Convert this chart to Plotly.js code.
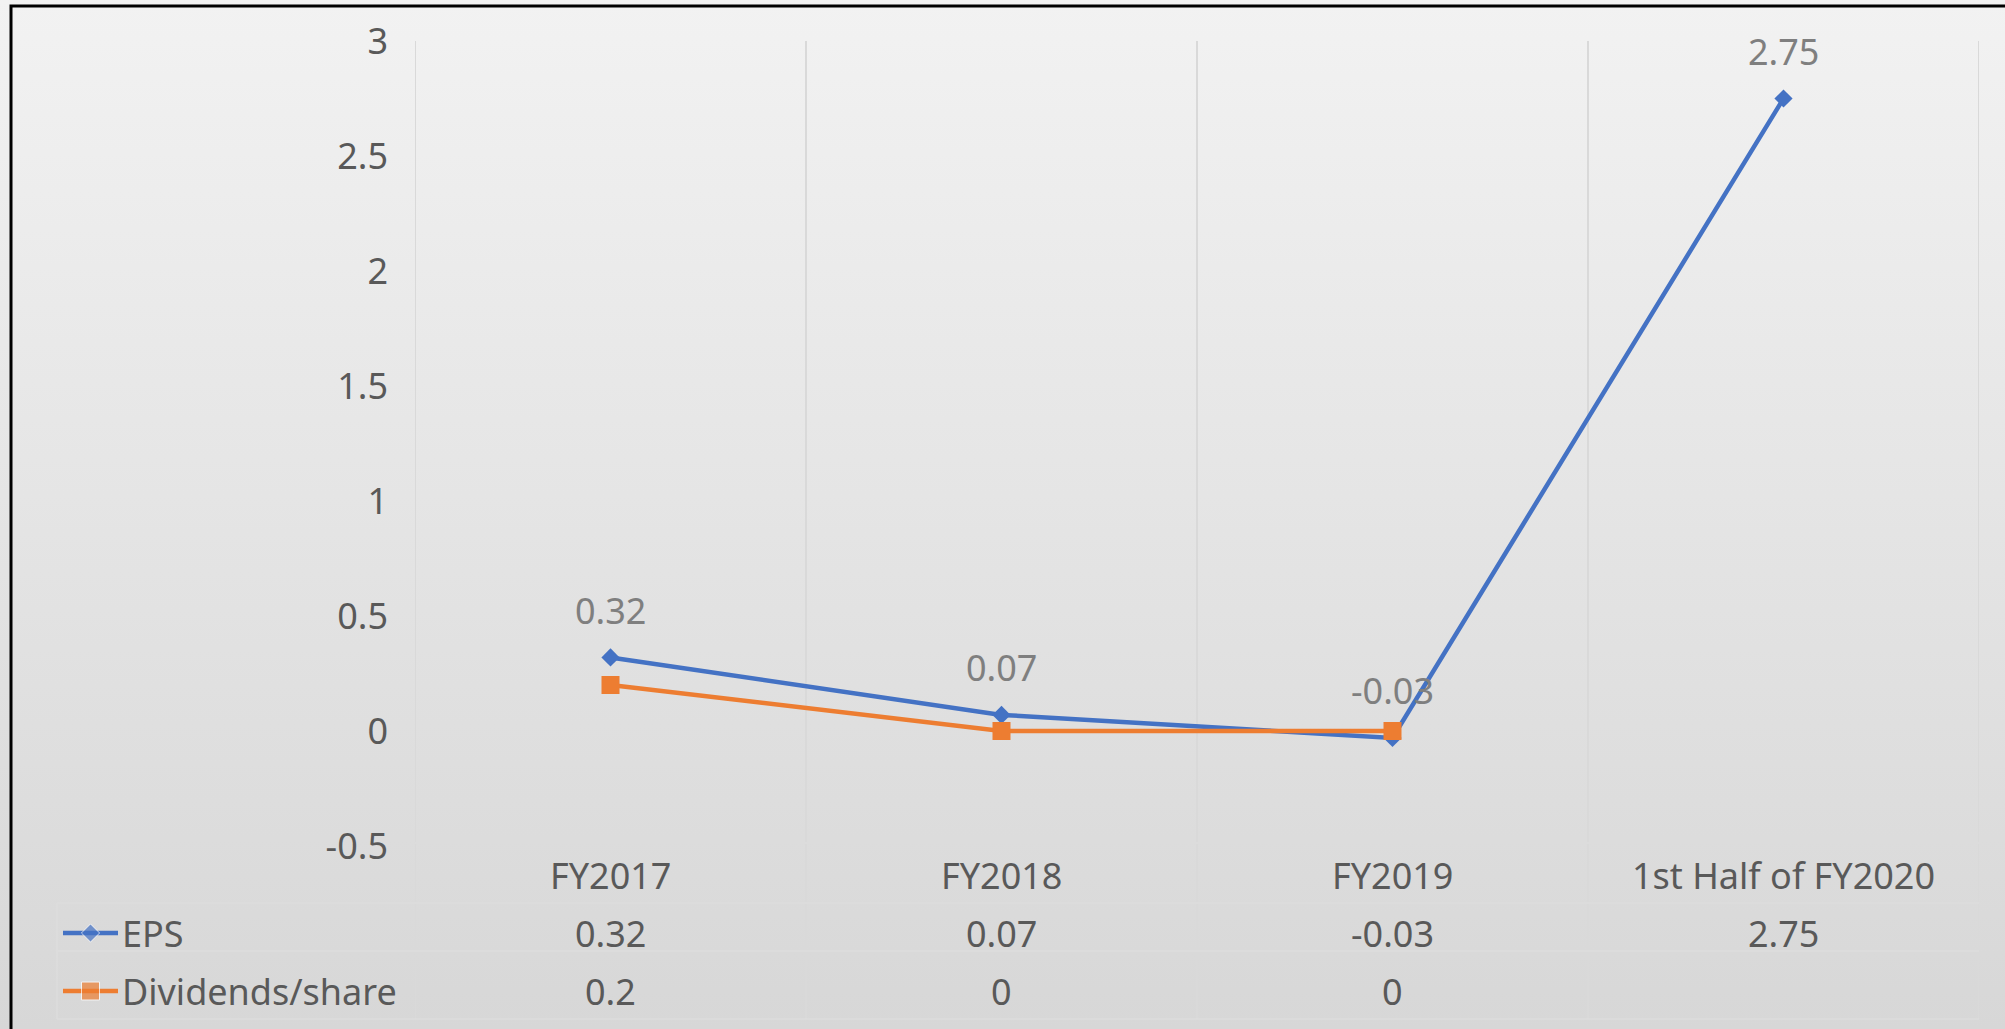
<!DOCTYPE html>
<html>
<head>
<meta charset="utf-8">
<script src="https://cdn.plot.ly/plotly-3.0.1.min.js"></script>
<style>
  html, body { margin: 0; padding: 0; }
  #chart { width: 2005px; height: 1029px; background: linear-gradient(to bottom, #f2f2f2 0%, #d7d7d7 100%); }
</style>
</head>
<body>
<div id="chart"></div>
<script>
// ---- data ----
var categories = ["FY2017", "FY2018", "FY2019", "1st Half of FY2020"];
var epsValues = [0.32, 0.07, -0.03, 2.75];
var dividendValues = [0.2, 0, 0, null];
var seriesNames = ["EPS", "Dividends/share"];
var yTickVals = [-0.5, 0, 0.5, 1, 1.5, 2, 2.5, 3];
var yTickText = ["-0.5", "0", "0.5", "1", "1.5", "2", "2.5", "3"];

// ---- layout constants (pixels) ----
var W = 2005, H = 1029;
var FONT = '"Noto Sans", "DejaVu Sans", sans-serif';
var FS = 36;
var plotL = 415, plotR = 1979, plotT = 41, plotB = 846;
var rowCat = 875, rowEps = 933, rowDiv = 991, tableBottom = 1019;
var tableLeft = 57;
var blue = '#4472c4', orange = '#ed7d31';
var gridColor = '#d9d9d9';

function px(x) { return x / W; }
function py(y) { return 1 - y / H; }

var traces = [
  {
    x: categories.map(function (c, i) { return i; }),
    y: epsValues,
    name: seriesNames[0],
    mode: 'lines+markers',
    line: { color: blue, width: 4.5 },
    marker: { symbol: 'diamond', size: 14, color: blue },
    cliponaxis: false,
    xaxis: 'x', yaxis: 'y'
  },
  {
    x: categories.map(function (c, i) { return i; }),
    y: dividendValues,
    name: seriesNames[1],
    mode: 'lines+markers',
    line: { color: orange, width: 4.5 },
    marker: { symbol: 'square', size: 18, color: orange },
    cliponaxis: false,
    xaxis: 'x', yaxis: 'y'
  },
  // legend keys in the data table (pixel overlay axes)
  {
    x: [63, 90.5, 118], y: [rowEps, rowEps, rowEps],
    mode: 'lines+markers',
    line: { color: blue, width: 4.5 },
    marker: { symbol: 'diamond', size: [0, 14, 0], color: blue },
    xaxis: 'x2', yaxis: 'y2', hoverinfo: 'skip'
  },
  {
    x: [63, 90.5, 118], y: [rowDiv, rowDiv, rowDiv],
    mode: 'lines+markers',
    line: { color: orange, width: 4.5 },
    marker: { symbol: 'square', size: [0, 18, 0], color: orange },
    xaxis: 'x2', yaxis: 'y2', hoverinfo: 'skip'
  }
];

var annotations = [];
// data labels for EPS
epsValues.forEach(function (v, i) {
  annotations.push({
    x: i, y: v, xref: 'x', yref: 'y', text: String(v), showarrow: false,
    yshift: 47, font: { family: FONT, size: FS, color: '#7f7f7f' },
    xanchor: 'center', yanchor: 'middle'
  });
});
// data table: category row
categories.forEach(function (c, i) {
  annotations.push({
    x: i, y: py(rowCat), xref: 'x', yref: 'paper', text: c, showarrow: false,
    font: { family: FONT, size: FS, color: '#595959' }, xanchor: 'center', yanchor: 'middle'
  });
});
// data table: value rows
[[epsValues, rowEps], [dividendValues, rowDiv]].forEach(function (pair) {
  pair[0].forEach(function (v, i) {
    if (v === null) return;
    annotations.push({
      x: i, y: py(pair[1]), xref: 'x', yref: 'paper', text: String(v), showarrow: false,
      font: { family: FONT, size: FS, color: '#595959' }, xanchor: 'center', yanchor: 'middle'
    });
  });
});
// row headers
[[seriesNames[0], rowEps], [seriesNames[1], rowDiv]].forEach(function (pair) {
  annotations.push({
    x: px(120), y: py(pair[1]), xref: 'paper', yref: 'paper', text: pair[0], showarrow: false,
    font: { family: FONT, size: FS, color: '#595959' }, xanchor: 'left', yanchor: 'middle'
  });
});

var shapes = [];
// vertical category boundary lines (plot + table)
for (var k = 0; k <= categories.length; k++) {
  shapes.push({
    type: 'line', xref: 'x', yref: 'paper', x0: k - 0.5, x1: k - 0.5,
    y0: py(tableBottom), y1: py(plotT), line: { color: gridColor, width: 2 }, layer: 'below'
  });
}
// table horizontal lines
[[plotL, 843], [tableLeft, 903], [tableLeft, 951], [tableLeft, tableBottom]].forEach(function (h) {
  shapes.push({
    type: 'line', xref: 'paper', yref: 'paper', x0: px(h[0]), x1: px(plotR),
    y0: py(h[1]), y1: py(h[1]), line: { color: '#dcdcdc', width: 1.5 }, layer: 'below'
  });
});
shapes.push({
  type: 'line', xref: 'paper', yref: 'paper', x0: px(tableLeft), x1: px(tableLeft),
  y0: py(903), y1: py(tableBottom), line: { color: '#dcdcdc', width: 1.5 }, layer: 'below'
});
// outer chart border
shapes.push({
  type: 'rect', xref: 'paper', yref: 'paper', x0: px(11), x1: 1.02, y0: -0.02, y1: py(6),
  line: { color: '#000000', width: 3 }, fillcolor: 'rgba(0,0,0,0)'
});

var layout = {
  width: W, height: H,
  margin: { l: 0, r: 0, t: 0, b: 0, pad: 0 },
  paper_bgcolor: 'rgba(0,0,0,0)',
  plot_bgcolor: 'rgba(0,0,0,0)',
  showlegend: false,
  font: { family: FONT, size: FS, color: '#595959' },
  xaxis: {
    domain: [px(plotL), px(plotR)], range: [-0.5, categories.length - 0.5],
    showgrid: false, zeroline: false, showline: false, showticklabels: false, ticks: '',
    fixedrange: true
  },
  yaxis: {
    domain: [py(plotB), py(plotT)], range: [-0.5, 3],
    tickvals: yTickVals, ticktext: yTickText,
    showgrid: false, zeroline: false, showline: false, ticks: '',
    ticklabelstandoff: 26,
    tickfont: { family: FONT, size: FS, color: '#595959' },
    fixedrange: true
  },
  xaxis2: { domain: [0, 1], range: [0, W], visible: false, anchor: 'y2', fixedrange: true },
  yaxis2: { domain: [0, 1], range: [H, 0], visible: false, anchor: 'x2', fixedrange: true },
  annotations: annotations,
  shapes: shapes
};

Plotly.newPlot('chart', traces, layout, { displayModeBar: false, staticPlot: true });
</script>
</body>
</html>
